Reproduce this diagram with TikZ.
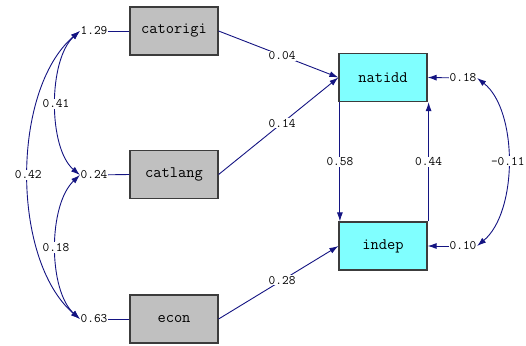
\documentclass[tikz,border=0pt]{standalone}
\usepackage{fontspec}
\usetikzlibrary{arrows.meta}
\definecolor{navy}{RGB}{20,20,130}
\definecolor{boxgray}{RGB}{192,192,192}
\definecolor{boxcyan}{RGB}{128,255,255}
\definecolor{edgegray}{RGB}{60,60,60}
\begin{document}
\begin{tikzpicture}[x=1pt,y=-1pt,
  obs/.style={draw=edgegray,line width=1.2pt,fill=boxgray,minimum width=88pt,minimum height=48pt,inner sep=0pt,font=\ttfamily\fontsize{16}{16}\selectfont},
  endo/.style={obs,fill=boxcyan},
  lab/.style={fill=white,inner sep=1pt,text=black,font=\ttfamily\fontsize{13}{13}\selectfont},
  conn/.style={draw=navy,line width=0.9pt},
  tip/.style={-{Latex[length=9pt,width=6pt]}},
  both/.style={{Latex[length=9pt,width=6pt]}-{Latex[length=9pt,width=6pt]}}
]
\useasboundingbox (0,0) rectangle (526,345);
\node[obs] (catorigi) at (174,31) {catorigi};
\node[obs] (catlang) at (174,174.5) {catlang};
\node[obs] (econ) at (174,319) {econ};
\node[endo] (natidd) at (383,77.5) {natidd};
\node[endo] (indep) at (383,246) {indep};
% error / variance labels
\node[lab,inner sep=0.5pt] (v1) at (94,31) {1.29};
\node[lab,inner sep=0.5pt] (v2) at (94,175) {0.24};
\node[lab,inner sep=0.5pt] (v3) at (94,319) {0.63};
\node[lab,inner sep=0.5pt] (e1) at (463,78) {0.18};
\node[lab,inner sep=0.5pt] (e2) at (463,246) {0.10};
\draw[conn] (v1) -- (catorigi.west);
\draw[conn] (v2) -- (catlang.west);
\draw[conn] (v3) -- (econ.west);
\draw[conn,tip] (e1) -- (natidd.east);
\draw[conn,tip] (e2) -- (indep.east);
% covariances
\draw[conn,both] (v1.west) .. controls (48,60) and (48,148) .. node[lab] {0.41} (v2.west);
\draw[conn,both] (v1.west) .. controls (11,90) and (11,260) .. node[lab] {0.42} (v3.west);
\draw[conn,both] (v2.west) .. controls (48,205) and (48,290) .. node[lab] {0.18} (v3.west);
\draw[conn,both] (e1.east) .. controls (518,110) and (518,212) .. node[lab] {-0.11} (e2.east);
% paths
\draw[conn,tip] (catorigi.east) -- node[lab,pos=0.53] {0.04} (natidd.west);
\draw[conn,tip] (catlang.east) -- node[lab,pos=0.53] {0.14} (natidd.west);
\draw[conn,tip] (econ.east) -- node[lab,pos=0.53] {0.28} (indep.west);
\draw[conn,tip] ([xshift=1.5pt]natidd.south west) -- node[lab] {0.58} ([xshift=1.5pt]indep.north west);
\draw[conn,tip] ([xshift=1pt]indep.north east) -- node[lab] {0.44} ([xshift=1pt]natidd.south east);
\end{tikzpicture}
\end{document}
